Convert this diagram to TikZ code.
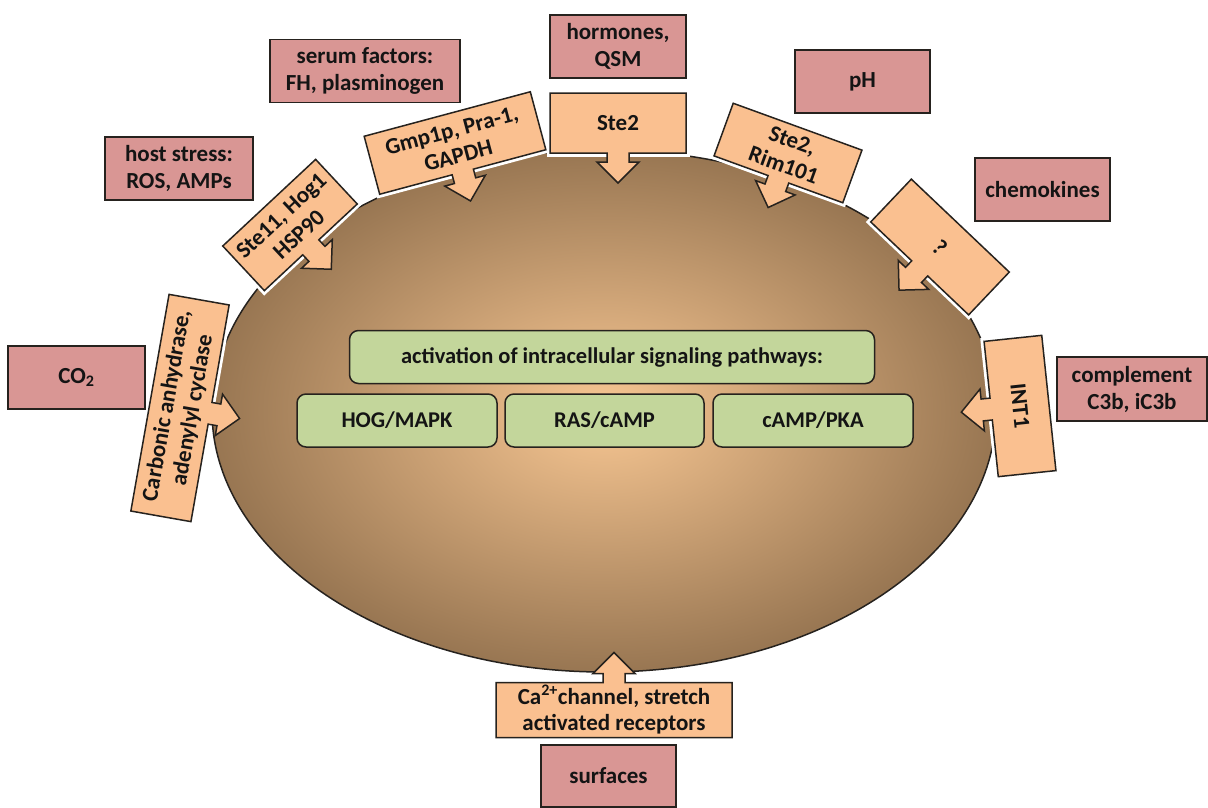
\documentclass[tikz,border=0pt]{standalone}
\usepackage{fontspec}
\setmainfont{Carlito}
\usetikzlibrary{shapes.geometric}
\definecolor{pinkfill}{RGB}{217,150,148}
\definecolor{orangefill}{RGB}{250,192,144}
\definecolor{greenfill}{RGB}{195,214,155}
\definecolor{cellin}{RGB}{248,199,147}
\definecolor{cellout}{RGB}{152,118,82}
\definecolor{edgecol}{RGB}{38,34,30}
\definecolor{txtcol}{RGB}{20,20,20}
\tikzset{
  pinkb/.style={rectangle, draw=edgecol, fill=pinkfill, line width=1.5pt, align=center,
    text=txtcol, font=\bfseries\fontsize{23}{27}\selectfont, inner sep=0pt},
  greenb/.style={rectangle, rounded corners=9pt, draw=edgecol, fill=greenfill, line width=1.5pt,
    align=center, text=txtcol, font=\bfseries\fontsize{22.5}{27}\selectfont, inner sep=0pt},
  halo/.style={draw=white, line width=7pt},
  cshape/.style={draw=edgecol, fill=orangefill, line width=1.5pt, line join=miter},
  ctext/.style={align=center, text=txtcol, font=\bfseries\fontsize{23}{26}\selectfont, inner sep=0pt}
}
% #1 name, #2 x, #3 y, #4 shape angle, #5 width, #6 height, #7 text angle, #8 text
\newcommand{\mycallout}[8]{%
  \begin{scope}[shift={(#2,#3)}, rotate=#4]
    \draw[halo] (-#5/2,-#6/2) rectangle (#5/2,#6/2);
    \draw[cshape] (-#5/2,#6/2) -- (#5/2,#6/2) -- (#5/2,-#6/2) -- (11,-#6/2) -- (11,-#6/2-9)
      -- (21,-#6/2-9) -- (0,-#6/2-30) -- (-21,-#6/2-9) -- (-11,-#6/2-9) -- (-11,-#6/2)
      -- (-#5/2,-#6/2) -- cycle;
    \node[ctext, rotate=#7] (#1) at (0,0) {#8};
  \end{scope}}
\begin{document}
\begin{tikzpicture}[x=1pt,y=1pt]
\useasboundingbox (0,0) rectangle (1208,-807);
% cell
\node[ellipse, draw=edgecol, line width=1.5pt, inner color=cellin, outer color=cellout,
  minimum width=784, minimum height=522, inner sep=0pt] (cell) at (604,-411) {};
% pathways
\node[greenb, minimum width=525, minimum height=53] (act) at (612,-357) {activation of intracellular signaling pathways:};
\node[greenb, minimum width=200, minimum height=53] (hog) at (397,-420.5) {HOG/MAPK};
\node[greenb, minimum width=199, minimum height=53] (ras) at (604.5,-420.5) {RAS/cAMP};
\node[greenb, minimum width=200, minimum height=53] (pka) at (813,-420.5) {cAMP/PKA};
% receptors
\mycallout{ste11}{290}{-225}{43}{127}{61}{43}{Ste11, Hog1\\HSP90}
\mycallout{gmp}{455}{-143}{15}{172}{60}{15}{Gmp1p, Pra-1,\\GAPDH}
\mycallout{stetwo}{618}{-123}{0}{136}{60}{0}{Ste2}
\mycallout{rim}{788}{-153}{-20}{137}{56}{-20}{Ste2,\\Rim101}
\mycallout{unk}{940}{-247}{-43.5}{135}{59}{-43.5}{?}
\mycallout{int}{1020}{-406}{-84}{136}{58}{-84}{INT1}
\mycallout{carb}{180}{-408}{80}{220}{61}{80}{Carbonic anhydrase,\\adenylyl cyclase}
\mycallout{ca}{614}{-710}{180}{236}{55}{0}{Ca\textsuperscript{2+}channel, stretch\\activated receptors}
% signals
\node[pinkb, minimum width=190, minimum height=63] (serum) at (365,-71) {serum factors:\\FH, plasminogen};
\node[pinkb, minimum width=136, minimum height=63] (horm) at (618,-46.5) {hormones,\\QSM};
\node[pinkb, minimum width=135, minimum height=63] (ph) at (862.5,-81.5) {pH};
\node[pinkb, minimum width=148, minimum height=63] (host) at (179,-168.5) {host stress:\\ROS, AMPs};
\node[pinkb, minimum width=135, minimum height=63] (chemo) at (1042.5,-189.5) {chemokines};
\node[pinkb, minimum width=137, minimum height=63] (co) at (76.5,-377.5) {CO\textsubscript{2}};
\node[pinkb, minimum width=150, minimum height=64] (compl) at (1132,-389) {complement\\C3b, iC3b};
\node[pinkb, minimum width=135, minimum height=62] (surf) at (608.5,-776) {surfaces};
\end{tikzpicture}
\end{document}
